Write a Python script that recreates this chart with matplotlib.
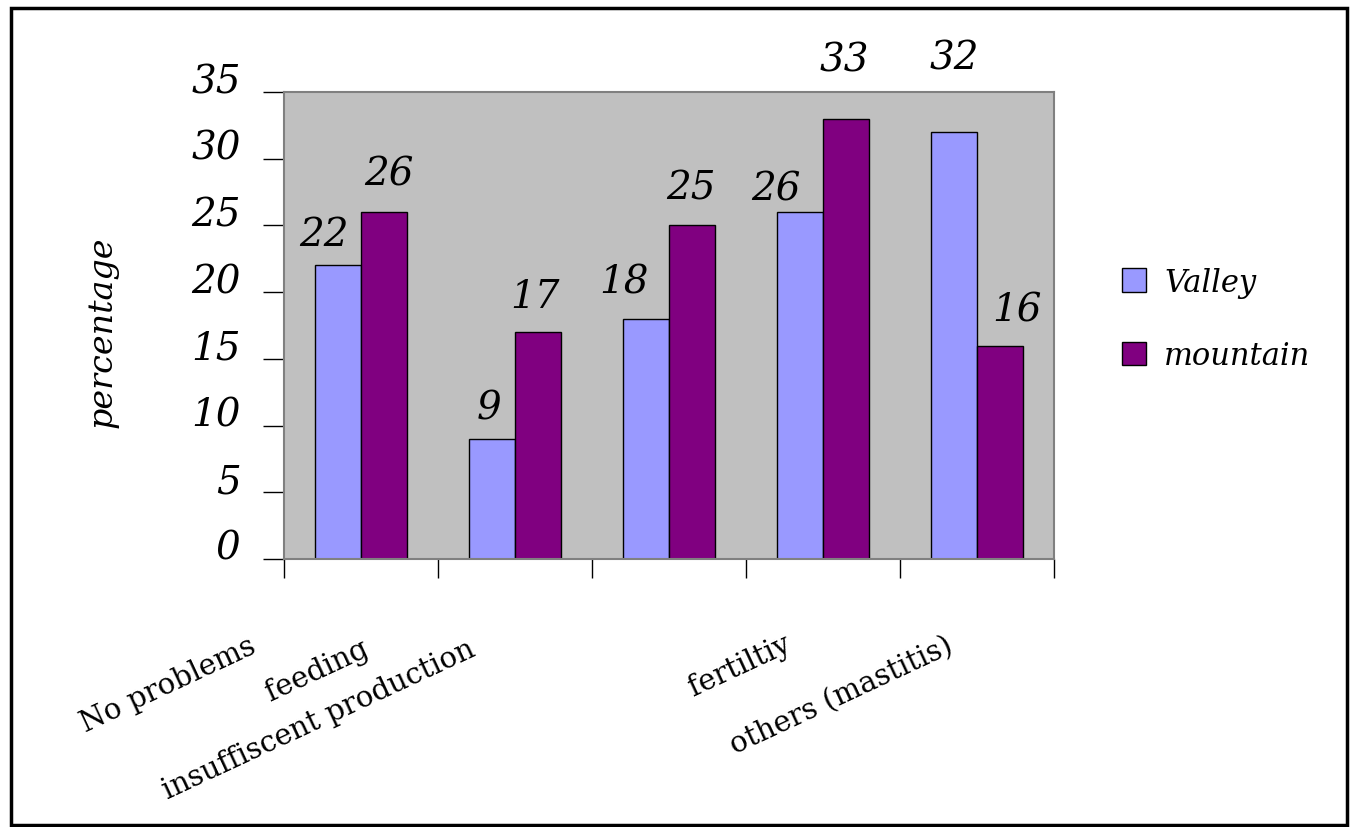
import numpy as np
import matplotlib
matplotlib.use("Agg")
import matplotlib.pyplot as plt
from matplotlib.patches import Rectangle

# data
categories = ["No problems", "feeding", "insuffiscent production",
              "fertiltiy", "others (mastitis)"]
valley = [22, 9, 18, 26, 32]
mountain = [26, 17, 25, 33, 16]
yticks = [0, 5, 10, 15, 20, 25, 30, 35]

# layout only: label offsets in pixels (excel-like placement)
valley_lbl_off = [(-14, 31), (-3, 31), (-22, 37), (-24, 23), (0, 74)]
mountain_lbl_off = [(5, 38), (-3, 36), (-1, 37), (-2, 59), (17, 36)]
cat_lbl_off = [(-103, -92), (-145, -95), (-192, -95), (-30, -90), (-22, -92)]

serif = ["DejaVu Serif"]
c_valley = "#9999FF"
c_mountain = "#800080"

fig = plt.figure(figsize=(13.5, 8.28), dpi=100)
ax = fig.add_axes([284 / 1350, 1 - 560 / 828, 770 / 1350, 467 / 828])
ax.set_facecolor("#C0C0C0")

x = np.arange(len(categories))
w = 0.3
b1 = ax.bar(x - w / 2, valley, w, color=c_valley, edgecolor="black", linewidth=1, label="Valley")
b2 = ax.bar(x + w / 2, mountain, w, color=c_mountain, edgecolor="black", linewidth=1, label="mountain")

ax.set_xlim(-0.5, len(categories) - 0.5)
ax.set_ylim(0, 35)

# value labels
for bars, vals, offs in [(b1, valley, valley_lbl_off), (b2, mountain, mountain_lbl_off)]:
    for bar, v, (dx, dy) in zip(bars, vals, offs):
        ax.annotate(str(v), xy=(bar.get_x() + bar.get_width() / 2, v),
                    xytext=(dx, dy), textcoords="offset pixels",
                    ha="center", va="center", fontsize=28, style="italic",
                    family=serif, annotation_clip=False)

# y axis
ax.set_yticks(yticks)
ax.set_yticklabels([str(t) for t in yticks], fontsize=28, style="italic", family=serif)
for lbl in ax.get_yticklabels():
    lbl.set_va("baseline")
ax.tick_params(axis="y", direction="out", length=15, width=1, color="black", pad=16)

# x axis: ticks at category boundaries, labels placed by hand
ax.set_xticks(np.arange(len(categories) + 1) - 0.5)
ax.set_xticklabels([])
ax.tick_params(axis="x", direction="out", length=14, width=1, color="black")
for i, (cat, (dx, dy)) in enumerate(zip(categories, cat_lbl_off)):
    ax.annotate(cat, xy=(i, 0), xycoords=("data", "axes fraction"),
                xytext=(dx, dy), textcoords="offset pixels",
                ha="right", va="baseline", rotation=25, rotation_mode="anchor",
                fontsize=21, family=serif, annotation_clip=False)

for s in ax.spines.values():
    s.set_color("#808080")
    s.set_linewidth(1.5)

fig.text(103 / 1350, 1 - 332 / 828, "percentage", rotation=90, ha="center", va="center",
         fontsize=24, style="italic", family=serif)

leg = fig.legend(handles=[b1, b2], labels=["Valley", "mountain"],
                 loc="center left", bbox_to_anchor=(1094 / 1350, 1 - 320 / 828),
                 frameon=False, handlelength=0.8, handleheight=0.8,
                 handletextpad=0.6, labelspacing=1.4,
                 prop={"size": 22, "style": "italic", "family": serif})

# outer border of the chart
fig.patches.append(Rectangle((11 / 1350, 2 / 828), 1336 / 1350, 817 / 828,
                             transform=fig.transFigure, fill=False,
                             edgecolor="black", linewidth=2.5))

fig.savefig("out.png", dpi=100)
